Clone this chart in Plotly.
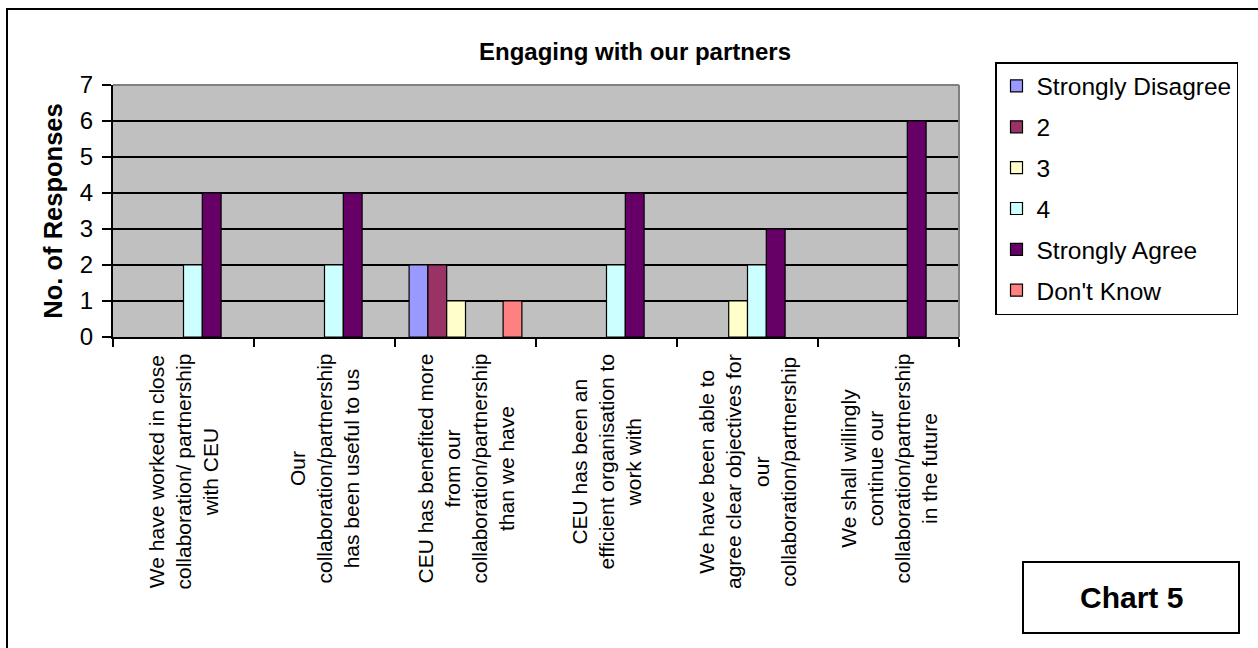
import plotly.graph_objects as go

# ---- data -------------------------------------------------------------
categories = [
    "We have worked in close<br>collaboration/ partnership<br>with CEU",
    "Our<br>collaboration/partnership<br>has been useful to us",
    "CEU has benefited more<br>from our<br>collaboration/partnership<br>than we have",
    "CEU has been an<br>efficient organisation to<br>work with",
    "We have been able to<br>agree clear objectives for<br>our<br>collaboration/partnership",
    "We shall willingly<br>continue our<br>collaboration/partnership<br>in the future",
]
series_names = ["Strongly Disagree", "2", "3", "4", "Strongly Agree", "Don't Know"]
strongly_disagree = [0, 0, 2, 0, 0, 0]
rating_2 = [0, 0, 2, 0, 0, 0]
rating_3 = [0, 0, 1, 0, 1, 0]
rating_4 = [2, 2, 0, 2, 2, 0]
strongly_agree = [4, 4, 0, 4, 3, 6]
dont_know = [0, 0, 1, 0, 0, 0]
series_values = [strongly_disagree, rating_2, rating_3, rating_4, strongly_agree, dont_know]
series_colors = ["#9999FF", "#993366", "#FFFFCC", "#CCFFFF", "#660066", "#FF8080"]
y_ticks = [0, 1, 2, 3, 4, 5, 6, 7]

# ---- geometry (pixels) ------------------------------------------------
W_PX, H_PX = 1258, 648
L, R, T, B = 113, 959, 85, 337
PW, PH = R - L, B - T
FONT = "Arial, Liberation Sans, sans-serif"


def px_x(px):
    return (px - L) / PW


def px_y(py):
    return (B - py) / PH


fig = go.Figure()
for name, vals, col in zip(series_names, series_values, series_colors):
    # zero counts are left empty so no flat outline is drawn on the axis
    shown = [v if v > 0 else None for v in vals]
    fig.add_trace(go.Bar(
        x=categories, y=shown, name=name, legendgroup=name,
        marker=dict(color=col, line=dict(color="black", width=1.2)),
    ))

# category labels, centred multi-line text rotated vertically
annotations = []
for cat in categories:
    annotations.append(dict(
        x=cat, xref="x", y=px_y(352), yref="paper",
        text=cat, showarrow=False, textangle=-90,
        xanchor="center", yanchor="top", align="center",
        font=dict(family=FONT, size=21, color="black"),
    ))

# "Chart 5" caption box
annotations.append(dict(
    x=px_x(1131), y=px_y(597.5), xref="paper", yref="paper",
    text="Chart 5", showarrow=False, xanchor="center", yanchor="middle",
    font=dict(family=FONT, size=30, color="black", weight="bold"),
))

shapes = [
    # outer chart frame
    dict(type="rect", xref="paper", yref="paper",
         x0=px_x(7), x1=px_x(1275), y0=px_y(665), y1=px_y(9),
         line=dict(color="black", width=2), layer="below"),
    # plot-area top and right edges
    dict(type="line", xref="paper", yref="paper",
         x0=0, x1=1, y0=1, y1=1, line=dict(color="#808080", width=2)),
    dict(type="line", xref="paper", yref="paper",
         x0=1, x1=1, y0=0, y1=1, line=dict(color="#808080", width=2)),
    # caption box
    dict(type="rect", xref="paper", yref="paper",
         x0=px_x(1023), x1=px_x(1239), y0=px_y(633), y1=px_y(562),
         line=dict(color="black", width=2)),
]

fig.update_layout(
    width=W_PX, height=H_PX,
    margin=dict(l=L, r=W_PX - R, t=T, b=H_PX - B, autoexpand=False),
    paper_bgcolor="white",
    plot_bgcolor="#C0C0C0",
    barmode="group", bargap=0.2, bargroupgap=0,
    font=dict(family=FONT, color="black"),
    title=dict(
        text="Engaging with our partners",
        font=dict(family=FONT, size=24, color="black", weight="bold"),
        x=635 / W_PX, xref="container", xanchor="center",
        y=1 - 52 / H_PX, yref="container", yanchor="middle",
    ),
    legend=dict(
        x=px_x(995), y=px_y(62), xanchor="left", yanchor="top",
        bordercolor="black", borderwidth=1.5, bgcolor="white",
        font=dict(family=FONT, size=24.5, color="black"),
        tracegroupgap=6, traceorder="grouped",
    ),
    annotations=annotations,
    shapes=shapes,
)

fig.update_xaxes(
    type="category", showticklabels=False,
    showline=True, linecolor="black", linewidth=2,
    ticks="outside", tickson="boundaries", ticklen=8, tickwidth=2, tickcolor="black",
    showgrid=False, zeroline=False,
)
fig.update_yaxes(
    range=[0, 7], tickvals=y_ticks,
    showline=True, linecolor="black", linewidth=2,
    ticks="outside", ticklen=9, tickwidth=2, tickcolor="black",
    ticklabelstandoff=4,
    tickfont=dict(family=FONT, size=24, color="black"),
    showgrid=True, gridcolor="black", gridwidth=1.5,
    zeroline=False,
    title=dict(text="No. of Responses", standoff=10,
               font=dict(family=FONT, size=25.5, color="black", weight="bold")),
)

fig.write_html("out.html")
